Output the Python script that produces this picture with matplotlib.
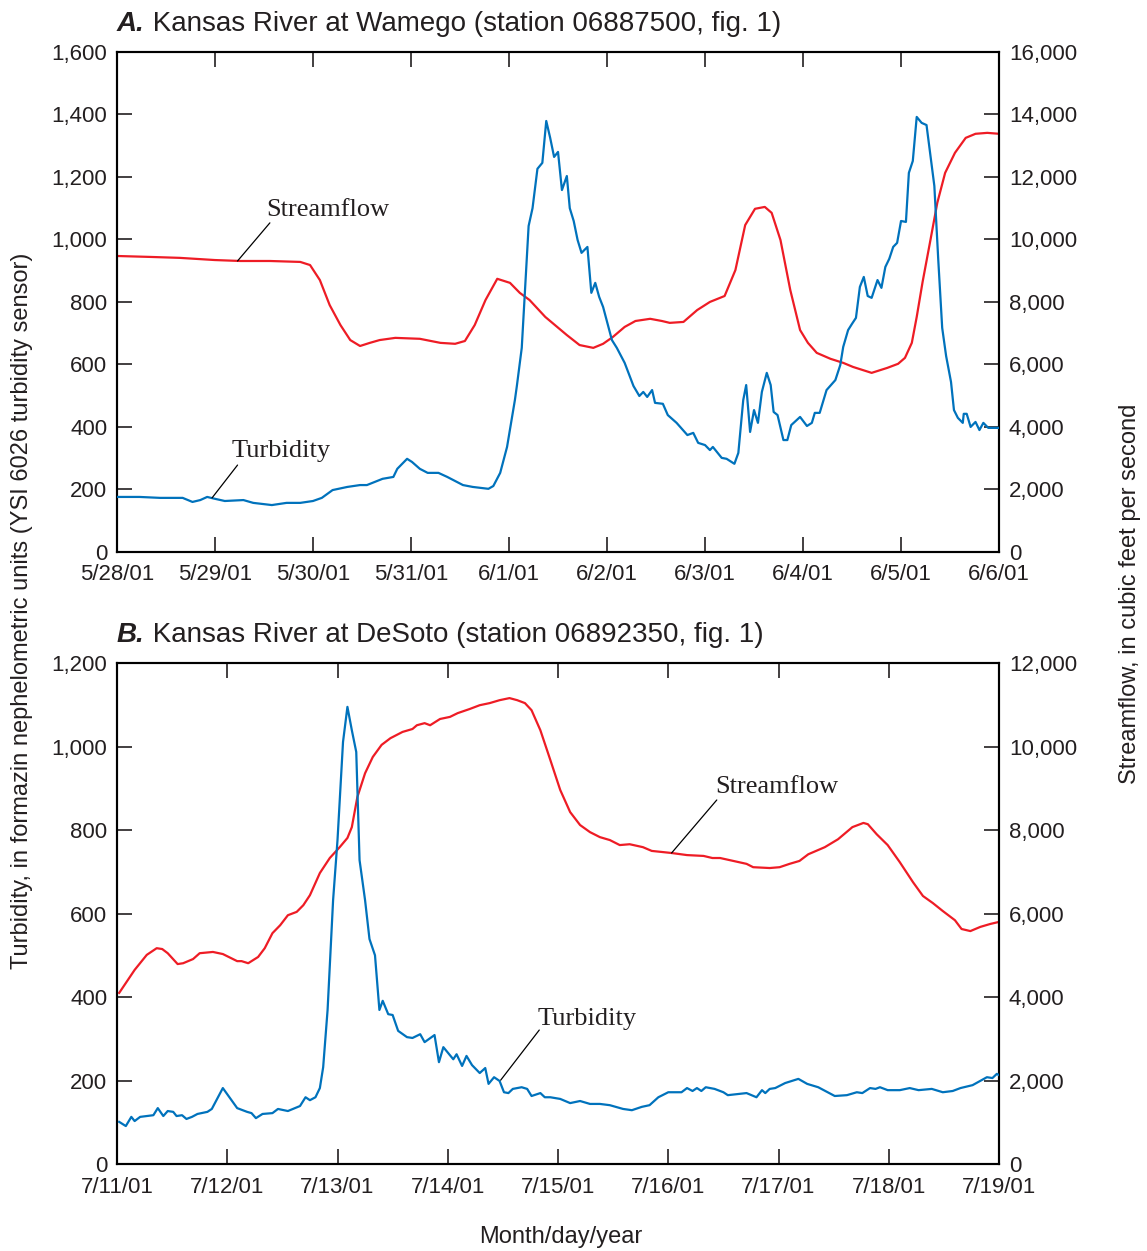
import matplotlib
matplotlib.use("Agg")
import matplotlib.pyplot as plt
from matplotlib.ticker import FuncFormatter

# ---- Panel A: Kansas River at Wamego, days after 5/28/01 ----
a_flow_day = [0.00, 0.34, 0.64, 1.00, 1.26, 1.56, 1.87, 1.97, 2.07, 2.17, 2.28, 2.38, 2.48,
              2.58, 2.68, 2.84, 3.09, 3.30, 3.45, 3.55, 3.65, 3.76, 3.88, 4.01, 4.11, 4.21,
              4.37, 4.59, 4.72, 4.86, 4.96, 5.06, 5.18, 5.29, 5.44, 5.56, 5.64, 5.78, 5.92,
              6.05, 6.20, 6.31, 6.41, 6.51, 6.61, 6.68, 6.77, 6.87, 6.97, 7.05, 7.14, 7.28,
              7.41, 7.51, 7.70, 7.86, 7.97, 8.04, 8.11, 8.16, 8.22, 8.30, 8.37, 8.45, 8.55,
              8.66, 8.76, 8.88, 9.00]
a_flow = [9470, 9440, 9410, 9340, 9310, 9310, 9280, 9180, 8700, 7900, 7260, 6780, 6590,
          6690, 6780, 6850, 6820, 6690, 6660, 6750, 7260, 8060, 8740, 8610, 8290, 8060,
          7520, 6940, 6620, 6530, 6660, 6880, 7200, 7390, 7460, 7390, 7330, 7360, 7740,
          8000, 8190, 9020, 10460, 10980, 11040, 10850, 9980, 8380, 7100, 6690, 6370, 6180,
          6050, 5920, 5730, 5890, 6020, 6210, 6690, 7520, 8640, 9980, 11170, 12130, 12770,
          13250, 13380, 13410, 13380]

a_turb_day = [0.00, 0.23, 0.44, 0.67, 0.77, 0.85, 0.92, 1.00, 1.10, 1.29, 1.39, 1.58, 1.73,
              1.87, 2.00, 2.09, 2.20, 2.35, 2.48, 2.55, 2.71, 2.82, 2.86, 2.96, 3.01, 3.09,
              3.17, 3.28, 3.37, 3.53, 3.63, 3.79, 3.84, 3.91, 3.98, 4.06, 4.08, 4.13, 4.20,
              4.24, 4.29, 4.34, 4.38, 4.42, 4.46, 4.50, 4.54, 4.59, 4.62, 4.66, 4.70, 4.74,
              4.80, 4.84, 4.88, 4.92, 4.96, 5.05, 5.10, 5.18, 5.27, 5.33, 5.37, 5.41, 5.46,
              5.49, 5.57, 5.62, 5.71, 5.82, 5.88, 5.93, 6.00, 6.05, 6.08, 6.17, 6.22, 6.30,
              6.34, 6.39, 6.42, 6.46, 6.50, 6.54, 6.58, 6.63, 6.67, 6.70, 6.74, 6.80, 6.84,
              6.88, 6.97, 7.04, 7.09, 7.12, 7.17, 7.24, 7.33, 7.38, 7.41, 7.46, 7.50, 7.54,
              7.58, 7.62, 7.66, 7.70, 7.76, 7.80, 7.84, 7.88, 7.92, 7.96, 8.00, 8.05, 8.08,
              8.12, 8.16, 8.21, 8.26, 8.34, 8.38, 8.42, 8.46, 8.51, 8.54, 8.58, 8.63, 8.64,
              8.67, 8.71, 8.76, 8.80, 8.84, 8.89, 9.00]
a_turb = [176, 176, 173, 173, 160, 166, 176, 170, 163, 166, 157, 150, 157,
          157, 163, 173, 198, 208, 214, 214, 234, 240, 266, 298, 288, 266,
          253, 253, 240, 214, 208, 202, 211, 253, 336, 486, 531, 653, 1043,
          1100, 1226, 1245, 1379, 1325, 1264, 1280, 1158, 1203, 1100, 1059, 998, 957,
          976, 829, 861, 816, 784, 678, 653, 605, 531, 499, 512, 496, 518,
          477, 474, 438, 413, 374, 381, 349, 342, 326, 336, 301, 298, 282,
          317, 486, 534, 384, 454, 413, 512, 573, 534, 448, 438, 358, 358,
          406, 432, 403, 413, 445, 445, 518, 550, 598, 656, 710, 730, 749,
          848, 880, 819, 813, 870, 845, 912, 938, 976, 989, 1059, 1056, 1213,
          1251, 1392, 1373, 1366, 1171, 934, 717, 627, 544, 454, 429, 413, 442,
          442, 400, 416, 390, 413, 397, 397]

a_ticklabels = ["5/28/01", "5/29/01", "5/30/01", "5/31/01", "6/1/01",
                "6/2/01", "6/3/01", "6/4/01", "6/5/01", "6/6/01"]

# ---- Panel B: Kansas River at DeSoto, days after 7/11/01 ----
b_flow_day = [0.02, 0.16, 0.27, 0.36, 0.41, 0.46, 0.55, 0.60, 0.69, 0.75, 0.87, 0.96, 1.09,
              1.13, 1.19, 1.28, 1.34, 1.41, 1.48, 1.55, 1.63, 1.69, 1.75, 1.84, 1.93, 2.02,
              2.09, 2.13, 2.18, 2.25, 2.32, 2.40, 2.48, 2.59, 2.68, 2.72, 2.79, 2.84, 2.93,
              3.02, 3.09, 3.20, 3.29, 3.38, 3.47, 3.56, 3.63, 3.70, 3.76, 3.84, 3.93, 4.02,
              4.11, 4.20, 4.29, 4.38, 4.47, 4.56, 4.65, 4.77, 4.85, 5.03, 5.17, 5.32, 5.40,
              5.47, 5.59, 5.71, 5.77, 5.92, 6.01, 6.10, 6.19, 6.27, 6.42, 6.54, 6.67, 6.77,
              6.81, 6.89, 6.99, 7.10, 7.22, 7.31, 7.40, 7.49, 7.60, 7.66, 7.74, 7.83, 7.92,
              8.00]
b_flow = [4100, 4650, 5010, 5170, 5150, 5050, 4790, 4810, 4910, 5050, 5080, 5030, 4860,
          4860, 4810, 4960, 5170, 5530, 5720, 5960, 6040, 6200, 6440, 6970, 7330, 7590,
          7810, 8070, 8790, 9360, 9750, 10040, 10200, 10350, 10420, 10510, 10560, 10510, 10660,
          10710, 10800, 10900, 10990, 11040, 11110, 11160, 11110, 11040, 10870, 10390, 9680, 8960,
          8430, 8120, 7950, 7830, 7760, 7640, 7660, 7590, 7500, 7450, 7400, 7380, 7330,
          7330, 7260, 7190, 7110, 7090, 7110, 7190, 7260, 7420, 7590, 7780, 8070, 8170,
          8140, 7900, 7640, 7230, 6750, 6420, 6250, 6060, 5840, 5630, 5580, 5680, 5750,
          5800]

b_turb_day = [0.02, 0.08, 0.13, 0.16, 0.21, 0.33, 0.37, 0.42, 0.46, 0.51, 0.54, 0.59, 0.63,
              0.68, 0.73, 0.82, 0.86, 0.96, 1.09, 1.18, 1.22, 1.26, 1.32, 1.41, 1.46, 1.55,
              1.66, 1.71, 1.75, 1.80, 1.84, 1.87, 1.91, 1.96, 2.00, 2.05, 2.09, 2.13, 2.17,
              2.20, 2.25, 2.29, 2.34, 2.38, 2.41, 2.46, 2.50, 2.55, 2.63, 2.68, 2.75, 2.79,
              2.88, 2.92, 2.96, 3.05, 3.08, 3.13, 3.17, 3.22, 3.29, 3.34, 3.37, 3.42, 3.47,
              3.51, 3.55, 3.59, 3.67, 3.72, 3.76, 3.84, 3.88, 3.93, 4.02, 4.11, 4.20, 4.29,
              4.38, 4.47, 4.59, 4.67, 4.76, 4.83, 4.91, 5.00, 5.12, 5.17, 5.22, 5.26, 5.30,
              5.34, 5.42, 5.50, 5.54, 5.71, 5.80, 5.85, 5.88, 5.92, 5.97, 6.06, 6.18, 6.26,
              6.36, 6.51, 6.62, 6.71, 6.76, 6.83, 6.88, 6.92, 6.99, 7.10, 7.19, 7.27, 7.39,
              7.49, 7.58, 7.65, 7.76, 7.89, 7.94, 7.98, 8.00]
b_turb = [101, 91, 113, 103, 113, 117, 134, 115, 127, 125, 115, 117, 108,
          113, 120, 125, 132, 182, 134, 125, 122, 110, 120, 122, 132, 127,
          139, 160, 153, 160, 182, 232, 369, 632, 776, 1011, 1095, 1039, 987,
          728, 632, 539, 500, 369, 391, 359, 357, 319, 304, 302, 311, 292,
          309, 244, 280, 251, 263, 235, 259, 237, 218, 230, 192, 208, 199,
          172, 170, 180, 184, 180, 163, 170, 160, 160, 156, 146, 151, 144,
          144, 141, 132, 129, 137, 141, 160, 172, 172, 182, 175, 182, 175,
          184, 180, 172, 165, 170, 160, 177, 170, 180, 182, 194, 204, 192,
          184, 163, 165, 172, 170, 182, 180, 184, 177, 177, 182, 177, 180,
          172, 175, 182, 189, 208, 206, 216, 213]

b_ticklabels = ["7/11/01", "7/12/01", "7/13/01", "7/14/01", "7/15/01",
                "7/16/01", "7/17/01", "7/18/01", "7/19/01"]

RED = "#ee1c25"
BLUE = "#0072bc"
INK = "#231f20"
SANS = ["Liberation Sans", "DejaVu Sans"]
SERIF = ["Liberation Serif", "DejaVu Serif"]

plt.rcParams["font.family"] = SANS
plt.rcParams["axes.linewidth"] = 1.5
plt.rcParams["text.color"] = INK
plt.rcParams["xtick.color"] = INK
plt.rcParams["ytick.color"] = INK

comma = FuncFormatter(lambda v, p: f"{v:,.0f}")


def draw_panel(rect, letter, title, turb_day, turb, flow_day, flow,
               ticklabels, tmax, tstep, labels):
    ax = fig.add_axes(rect)
    ax2 = ax.twinx()
    ndays = len(ticklabels) - 1
    ax.plot(turb_day, turb, color=BLUE, lw=1.6, zorder=3)
    ax2.plot(flow_day, flow, color=RED, lw=1.6)
    ax.set_zorder(ax2.get_zorder() + 1)
    ax.patch.set_visible(False)

    ax.set_xlim(0, ndays)
    ax.set_ylim(0, tmax)
    ax2.set_ylim(0, tmax * 10)
    ax.set_xticks(range(ndays + 1))
    ax.set_xticklabels(ticklabels)
    ax.set_yticks(range(0, tmax + 1, tstep))
    ax2.set_yticks(range(0, tmax * 10 + 1, tstep * 10))
    ax.yaxis.set_major_formatter(comma)
    ax2.yaxis.set_major_formatter(comma)
    ax.tick_params(axis="both", direction="in", length=11, width=1.2,
                   labelsize=16, top=True, right=False, pad=7)
    ax.tick_params(axis="x", pad=9)
    ax2.tick_params(axis="y", direction="in", length=11, width=1.2,
                    labelsize=16, pad=7)

    for text, (tx, ty), (x0, y0), (x1, y1) in labels:
        ax.text(tx, ty, text, family=SERIF, fontsize=19,
                ha="center", va="center")
        ax.annotate("", xy=(x1, y1), xytext=(x0, y0),
                    arrowprops=dict(arrowstyle="-", lw=0.9, color="black",
                                    shrinkA=0, shrinkB=0))

    t1 = fig.text(rect[0], rect[1] + rect[3] + 0.012, letter, fontsize=20,
                  fontweight="bold", fontstyle="italic", ha="left", va="bottom")
    ax.annotate(" " + title, xy=(1, 0), xycoords=t1, fontsize=20,
                ha="left", va="bottom")
    return ax


fig = plt.figure(figsize=(11.47, 12.51), dpi=100)

draw_panel([0.1020, 0.5588, 0.7690, 0.3997], "A.",
           "Kansas River at Wamego (station 06887500, fig. 1)",
           a_turb_day, a_turb, a_flow_day, a_flow, a_ticklabels, 1600, 200,
           [("Streamflow", (2.15, 1094), (1.56, 1053), (1.23, 931)),
            ("Turbidity", (1.67, 323), (1.23, 278), (0.97, 173))])

draw_panel([0.1020, 0.0695, 0.7690, 0.4005], "B.",
           "Kansas River at DeSoto (station 06892350, fig. 1)",
           b_turb_day, b_turb, b_flow_day, b_flow, b_ticklabels, 1200, 200,
           [("Streamflow", (5.98, 903), (5.44, 872), (5.03, 745)),
            ("Turbidity", (4.26, 347), (3.83, 321), (3.48, 201))])

fig.text(0.019, 0.512,
         "Turbidity, in formazin nephelometric units (YSI 6026 turbidity sensor)",
         rotation=90, ha="center", va="center", fontsize=17)
fig.text(0.985, 0.525, "Streamflow, in cubic feet per second",
         rotation=90, ha="center", va="center", fontsize=17)
fig.text(0.489, 0.011, "Month/day/year", ha="center", va="center", fontsize=17)

fig.savefig("out.png", dpi=100)
